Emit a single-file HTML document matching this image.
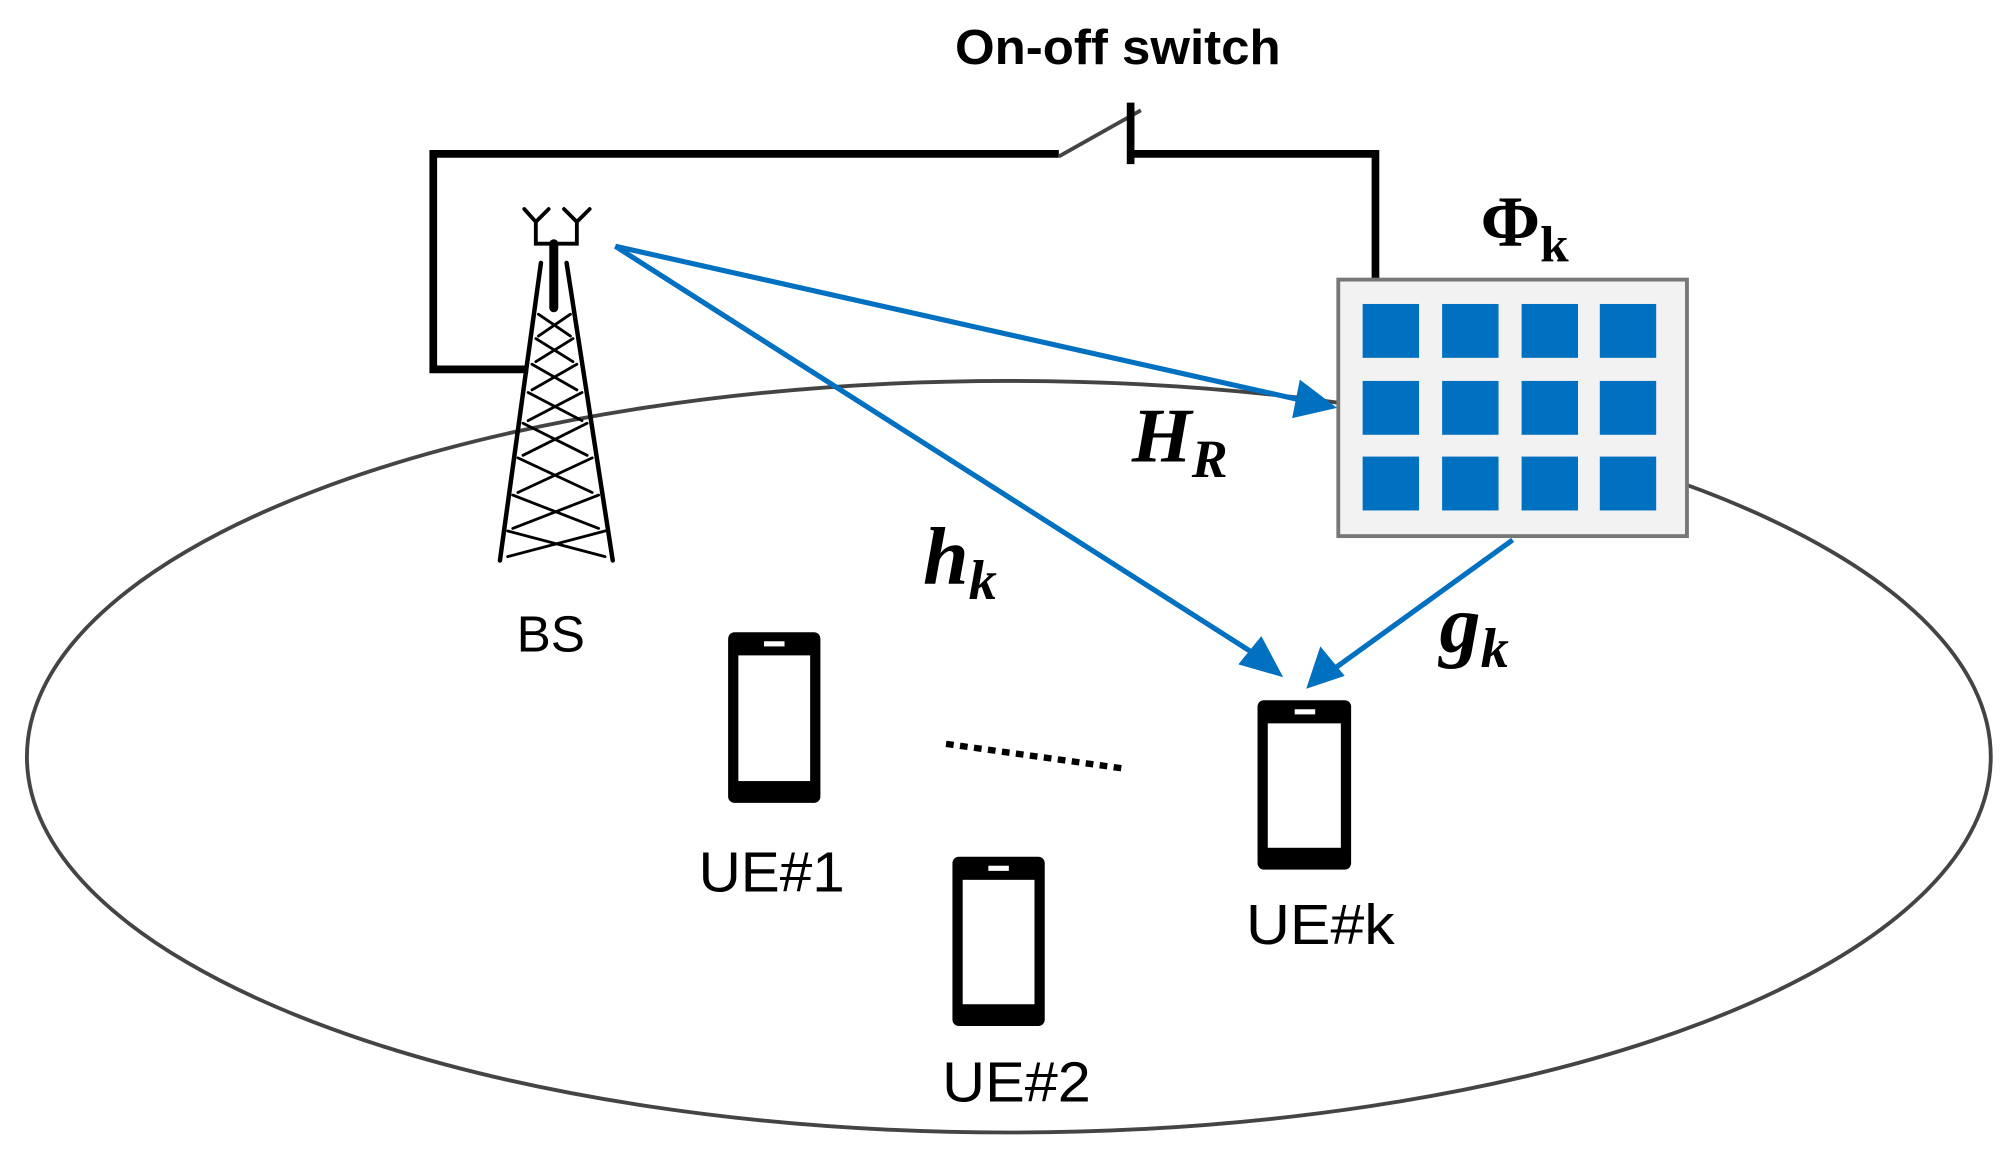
<!DOCTYPE html>
<html><head><meta charset="utf-8"><style>html,body{margin:0;padding:0;background:#fff}svg{display:block}</style></head>
<body>
<svg width="2010" height="1162" viewBox="0 0 1568 906" preserveAspectRatio="none" xmlns="http://www.w3.org/2000/svg">
<ellipse cx="787" cy="590" rx="766" ry="293" fill="none" stroke="#444" stroke-width="3"/>
<!-- loop -->
<path d="M412 288 L338 288 L338 120 L826 120" fill="none" stroke="#000" stroke-width="6"/>
<path d="M882 120 L1073 120 L1073 218" fill="none" stroke="#000" stroke-width="6"/>
<line x1="826" y1="122" x2="890" y2="86" stroke="#444" stroke-width="3"/>
<line x1="882" y1="80" x2="882" y2="128" stroke="#000" stroke-width="6"/>
<text x="745" y="50" font-family="Liberation Sans, sans-serif" font-size="38" font-weight="bold" fill="#000" textLength="254" lengthAdjust="spacingAndGlyphs">On-off switch</text>
<!-- RIS -->
<rect x="1044" y="218" width="272" height="200" fill="#f2f2f2" stroke="#777" stroke-width="3"/>
<g fill="#0070c0">
<rect x="1063" y="237" width="44" height="42"/><rect x="1125" y="237" width="44" height="42"/><rect x="1187" y="237" width="44" height="42"/><rect x="1248" y="237" width="44" height="42"/>
<rect x="1063" y="297" width="44" height="42"/><rect x="1125" y="297" width="44" height="42"/><rect x="1187" y="297" width="44" height="42"/><rect x="1248" y="297" width="44" height="42"/>
<rect x="1063" y="356" width="44" height="42"/><rect x="1125" y="356" width="44" height="42"/><rect x="1187" y="356" width="44" height="42"/><rect x="1248" y="356" width="44" height="42"/>
</g>
<text x="1155" y="192" font-family="Liberation Serif, serif" font-size="56" font-weight="bold">Φ<tspan font-size="40" dy="12">k</tspan></text>
<!-- blue links -->
<g stroke="#0070c0" stroke-width="4" fill="none">
<line x1="480" y1="192" x2="1015" y2="312"/>
<line x1="480" y1="192" x2="982" y2="512"/>
<line x1="1180" y1="421" x2="1040" y2="522"/>
</g>
<g fill="#0070c0">
<polygon points="1043,318 1008,326 1014,296"/>
<polygon points="1001,528 966,518 984,496"/>
<polygon points="1019,537 1030,504 1049,527"/>
</g>
<g font-family="Liberation Serif, serif" font-style="italic" font-weight="bold">
<text x="883" y="360" font-size="60">H<tspan font-size="42" dy="12">R</tspan></text>
<text x="720" y="455" font-size="64">h<tspan font-size="44" dy="12">k</tspan></text>
<text x="1123" y="508" font-size="64">g<tspan font-size="44" dy="12">k</tspan></text>
</g>
<!-- tower -->
<g stroke="#000" fill="none" stroke-linecap="round">
<path d="M409 163 L418 173 L428 163 M418 173 L418 190 L450 190 L450 173 M440 163 L450 173 L460 163" stroke-width="3"/>
<path d="M432 190 L432 240" stroke-width="7"/>
<path d="M422 205 L390 437 M442 205 L478 437" stroke-width="3.5"/>
<path d="M420 245 L445 262 M445 245 L420 262 M418 264 L447 282 M447 264 L418 282 M415 284 L450 304 M450 284 L415 304 M412 306 L454 328 M454 306 L412 328 M408 330 L458 355 M458 330 L408 355 M404 357 L462 384 M462 357 L404 384 M400 386 L467 412 M467 386 L400 412 M396 414 L472 434 M472 414 L396 434" stroke-width="2.2"/>
</g>
<text x="403" y="508" font-family="Liberation Sans, sans-serif" font-size="40">BS</text>
<!-- phones -->
<g>
<rect x="568" y="493" width="72" height="133" rx="5" fill="#000"/><rect x="576" y="511" width="56" height="98" fill="#fff"/><rect x="596" y="500" width="16" height="4" fill="#fff"/>
<rect x="743" y="668" width="72" height="132" rx="5" fill="#000"/><rect x="751" y="686" width="56" height="97" fill="#fff"/><rect x="771" y="675" width="16" height="4" fill="#fff"/>
<rect x="981" y="546" width="73" height="132" rx="5" fill="#000"/><rect x="989" y="564" width="57" height="97" fill="#fff"/><rect x="1010" y="553" width="16" height="4" fill="#fff"/>
</g>
<line x1="738" y1="580" x2="875" y2="599" stroke="#000" stroke-width="5" stroke-dasharray="6,5"/>
<g font-family="Liberation Sans, sans-serif" font-size="44" fill="#000">
<text x="545" y="695" textLength="114" lengthAdjust="spacingAndGlyphs">UE#1</text>
<text x="735" y="859" textLength="116" lengthAdjust="spacingAndGlyphs">UE#2</text>
<text x="972" y="736" textLength="116" lengthAdjust="spacingAndGlyphs">UE#k</text>
</g>
</svg>
</body></html>
